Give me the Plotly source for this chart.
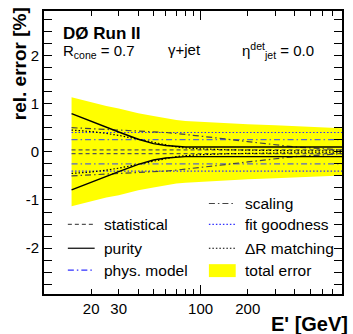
import numpy as np
import plotly.graph_objects as go

# ---- data ----
energy = [15, 20, 25, 30, 40, 50, 60, 70, 80, 100, 150, 200, 300, 400, 500, 600, 800]
total_error = [1.13, 1.02, 0.95, 0.90, 0.80, 0.74, 0.69, 0.66, 0.64, 0.62, 0.59, 0.57, 0.55, 0.53, 0.52, 0.51, 0.49]
statistical = [0.04, 0.04, 0.04, 0.04, 0.04, 0.04, 0.04, 0.04, 0.04, 0.04, 0.04, 0.04, 0.04, 0.04, 0.04, 0.04, 0.04]
purity = [0.79, 0.63, 0.50, 0.41, 0.26, 0.17, 0.13, 0.11, 0.10, 0.10, 0.10, 0.10, 0.10, 0.10, 0.10, 0.10, 0.10]
phys_model = [0.25, 0.25, 0.25, 0.25, 0.25, 0.25, 0.25, 0.25, 0.25, 0.25, 0.25, 0.25, 0.25, 0.25, 0.25, 0.25, 0.25]
scaling = [0.50, 0.48, 0.47, 0.46, 0.44, 0.42, 0.40, 0.38, 0.36, 0.33, 0.26, 0.21, 0.14, 0.10, 0.08, 0.06, 0.04]
fit_goodness = [0.40, 0.40, 0.40, 0.40, 0.40, 0.40, 0.40, 0.40, 0.40, 0.40, 0.40, 0.40, 0.40, 0.40, 0.40, 0.40, 0.40]
dr_matching = [0.45, 0.42, 0.38, 0.34, 0.26, 0.19, 0.14, 0.10, 0.08, 0.06, 0.04, 0.03, 0.03, 0.02, 0.02, 0.02, 0.02]

x_tick_vals = [20, 30, 100, 200]
x_tick_text = ["20", "30", "100", "200"]
x_minor_vals = [10, 40, 50, 60, 70, 80, 90, 300, 400, 500, 600, 700, 800]
y_tick_vals = [-2, -1, 0, 1, 2]
y_tick_text = ["-2", "-1", "0", "1", "2"]

FONT = "Liberation Sans, Arial, Helvetica, sans-serif"

DASH = "4px,3px"
DASHDOT = "6px,3px,1.5px,3px"
DOT = "1.5px,2px"

fig = go.Figure()

# total error band
fig.add_trace(go.Scatter(x=energy, y=-np.array(total_error), mode="lines",
                         line=dict(width=0, color="#ffff00"), showlegend=False, hoverinfo="skip"))
fig.add_trace(go.Scatter(x=energy, y=total_error, mode="lines", fill="tonexty",
                         fillcolor="#ffff00", line=dict(width=0, color="#ffff00"),
                         showlegend=False, hoverinfo="skip"))

styles = [
    (statistical, "#555555", DASH, 1.2),
    (phys_model, "#5868c8", DASHDOT, 1.2),
    (fit_goodness, "#3030ff", DOT, 1.2),
    (scaling, "#444444", DASHDOT, 1.2),
    (dr_matching, "#000000", DOT, 1.2),
    (purity, "#000000", "solid", 1.4),
]
for vals, col, dash, w in styles:
    for sign in (1, -1):
        fig.add_trace(go.Scatter(x=energy, y=sign * np.array(vals), mode="lines",
                                 line=dict(color=col, dash=dash, width=w),
                                 showlegend=False, hoverinfo="skip"))

# invisible trace for a second x axis carrying the long tick at 100
fig.add_trace(go.Scatter(x=[100], y=[0], xaxis="x2", mode="markers",
                         marker=dict(opacity=0), showlegend=False, hoverinfo="skip"))

L, R, T, B = 44, 9, 9.5, 40
W, H = 353, 334
pw, ph = W - L - R, H - T - B


def px(xp):
    return (xp - L) / pw


def py(yp):
    return (H - B - yp) / ph


xrange = [np.log10(10), np.log10(800)]
fig.update_layout(
    width=W, height=H,
    margin=dict(l=L, r=R, t=T, b=B),
    paper_bgcolor="white", plot_bgcolor="white",
    font=dict(family=FONT, size=15, color="black"),
    xaxis=dict(type="log", range=xrange, tickvals=x_tick_vals, ticktext=x_tick_text,
               ticks="inside", ticklen=5, tickwidth=1, tickcolor="black",
               showline=True, linewidth=2, linecolor="black", mirror="allticks",
               showgrid=False, zeroline=False,
               tickfont=dict(family=FONT, size=15),
               minor=dict(tickvals=x_minor_vals, ticks="inside", ticklen=5,
                          tickwidth=1, tickcolor="black", showgrid=False)),
    xaxis2=dict(type="log", range=xrange, overlaying="x", side="bottom",
                tickvals=[100], ticktext=[""], ticks="inside", ticklen=9,
                tickwidth=1, tickcolor="black", showgrid=False, zeroline=False,
                showline=False, mirror="allticks", showticklabels=False),
    yaxis=dict(range=[-2.95, 2.92], tickvals=y_tick_vals, ticktext=y_tick_text,
               ticks="inside", ticklen=8, tickwidth=1, tickcolor="black",
               showline=True, linewidth=2, linecolor="black", mirror="allticks",
               showgrid=False, zeroline=False,
               tickfont=dict(family=FONT, size=15),
               minor=dict(dtick=0.25, ticks="inside", ticklen=4, tickwidth=1,
                          tickcolor="black", showgrid=False)),
)

ann = []
# axis titles
ann.append(dict(text="<b>rel. error [%]</b>", xref="paper", yref="paper",
                x=px(19), y=py(4), xanchor="center", yanchor="top", textangle=-90,
                showarrow=False, font=dict(family=FONT, size=19)))
ann.append(dict(text="<b>E' [GeV]</b>", xref="paper", yref="paper",
                x=px(352), y=py(324), xanchor="right", yanchor="middle",
                showarrow=False, font=dict(family=FONT, size=20)))
# header texts
ann.append(dict(text="<b>DØ Run II</b>", xref="paper", yref="paper",
                x=px(61), y=py(32), xanchor="left", yanchor="middle",
                showarrow=False, font=dict(family=FONT, size=17)))
ann.append(dict(text="R<sub>cone</sub> = 0.7", xref="paper", yref="paper",
                x=px(61), y=py(50), xanchor="left", yanchor="middle",
                showarrow=False, font=dict(family=FONT, size=15)))
ann.append(dict(text="γ+jet", xref="paper", yref="paper",
                x=px(167), y=py(48), xanchor="left", yanchor="middle",
                showarrow=False, font=dict(family=FONT, size=15)))
ann.append(dict(text="η<sup>det</sup><sub>jet</sub> = 0.0", xref="paper", yref="paper",
                x=px(241), y=py(49), xanchor="left", yanchor="middle",
                showarrow=False, font=dict(family=FONT, size=15)))

# manual legend
legend_items = [
    ("scaling", "#444444", DASHDOT, 210, 203, "line"),
    ("statistical", "#555555", DASH, 68, 224, "line"),
    ("fit goodness", "#3030ff", DOT, 210, 224, "line"),
    ("purity", "#000000", "solid", 68, 248, "line"),
    ("ΔR matching", "#000000", DOT, 210, 248, "line"),
    ("phys. model", "#3030ff", DASHDOT, 68, 270, "line"),
    ("total error", "#ffff00", None, 210, 270, "box"),
]
shapes = []
for label, col, dash, x0, yc, kind in legend_items:
    if kind == "line":
        shapes.append(dict(type="line", xref="paper", yref="paper",
                           x0=px(x0), x1=px(x0 + 27), y0=py(yc), y1=py(yc),
                           line=dict(color=col, dash=dash, width=1.2)))
    else:
        shapes.append(dict(type="rect", xref="paper", yref="paper",
                           x0=px(x0), x1=px(x0 + 27), y0=py(yc - 6), y1=py(yc + 7),
                           fillcolor=col, line=dict(width=0)))
    ann.append(dict(text=label, xref="paper", yref="paper",
                    x=px(x0 + 34), y=py(yc), xanchor="left", yanchor="middle",
                    showarrow=False, font=dict(family=FONT, size=15.5)))

fig.update_layout(annotations=ann, shapes=shapes)
fig.write_html("out.html", config={"displayModeBar": False},
               post_script="document.body.style.margin='0';document.body.style.padding='0';")
